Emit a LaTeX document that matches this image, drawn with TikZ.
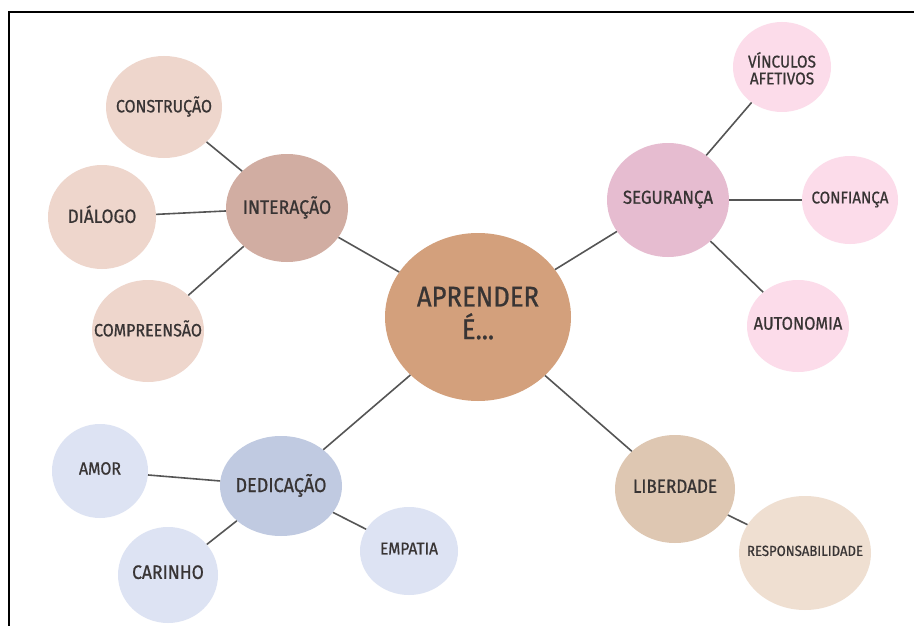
\documentclass[tikz,border=0pt]{standalone}
\usepackage{fontspec}
\setmainfont{Fira Sans}[FakeStretch=0.9,FakeBold=0.8]
\usetikzlibrary{shapes.geometric}
\definecolor{txt}{HTML}{383434}
\definecolor{cCenter}{HTML}{D3A07C}
\definecolor{cInter}{HTML}{D1ADA2}
\definecolor{cInterL}{HTML}{EED6CC}
\definecolor{cSeg}{HTML}{E6BCD0}
\definecolor{cSegL}{HTML}{FCDCEA}
\definecolor{cLib}{HTML}{DEC7B2}
\definecolor{cLibL}{HTML}{EFDFD1}
\definecolor{cDed}{HTML}{C0CAE1}
\definecolor{cDedL}{HTML}{DDE3F3}
\definecolor{cLine}{HTML}{555555}
\newcommand{\fs}[1]{\fontsize{#1}{#1}\selectfont}
\newcommand{\zw}[1]{\makebox[0pt]{\begin{tabular}{@{}c@{}}#1\end{tabular}}}
\tikzset{
  bubble/.style={ellipse, inner sep=0pt, text=txt},
  link/.style={draw=cLine, line width=1.6pt},
}
\begin{document}
\begin{tikzpicture}[x=1pt,y=-1pt]
\useasboundingbox (0,0) rectangle (914,626);
\fill[white] (0,0) rectangle (914,626);
\draw[line width=2.6pt, black] (9,626) -- (9,12) -- (914,12);

% center
\node[bubble, fill=cCenter, minimum width=186pt, minimum height=168pt,
      font=\fontsize{28.5}{29}\selectfont] (c) at (478,317) {\zw{APRENDER\\[-2pt]É...}};

% interacao
\node[bubble, fill=cInter, minimum width=122pt, minimum height=108pt, font=\fs{19.6}] (int) at (287,208) {\zw{INTERAÇÃO}};
\node[bubble, fill=cInterL, minimum width=116pt, minimum height=102pt, font=\fs{17.7}] (con) at (164,107) {\zw{CONSTRUÇÃO}};
\node[bubble, fill=cInterL, minimum width=108pt, minimum height=104pt, font=\fs{19.2}] (dia) at (102,217) {\zw{DIÁLOGO}};
\node[bubble, fill=cInterL, minimum width=112pt, minimum height=102pt, font=\fs{17.8}] (com) at (148,331) {\zw{COMPREENSÃO}};

% seguranca
\node[bubble, fill=cSeg, minimum width=122pt, minimum height=114pt, font=\fs{18.7}] (seg) at (668,200) {\zw{SEGURANÇA}};
\node[bubble, fill=cSegL, minimum width=98pt, minimum height=90pt, font=\fontsize{17}{16.5}\selectfont] (vin) at (782,67) {\makebox[0pt]{\raisebox{-8pt}[0pt][0pt]{\begin{tabular}{@{}c@{}}VÍNCULOS\\AFETIVOS\end{tabular}}}};
\node[bubble, fill=cSegL, minimum width=96pt, minimum height=88pt, font=\fs{16.8}] (cnf) at (850,200) {\zw{CONFIANÇA}};
\node[bubble, fill=cSegL, minimum width=102pt, minimum height=92pt, font=\fs{18.2}] (aut) at (798,326) {\zw{AUTONOMIA}};

% liberdade
\node[bubble, fill=cLib, minimum width=120pt, minimum height=108pt, font=\fs{19}] (lib) at (675,489) {\zw{LIBERDADE}};
\node[bubble, fill=cLibL, minimum width=132pt, minimum height=114pt, font=\fs{14.6}] (res) at (805,553) {\zw{RESPONSABILIDADE}};

% dedicacao
\node[bubble, fill=cDed, minimum width=122pt, minimum height=100pt, font=\fs{20}] (ded) at (281,486) {\zw{DEDICAÇÃO}};
\node[bubble, fill=cDedL, minimum width=96pt, minimum height=94pt, font=\fs{17.7}] (amo) at (100,471) {\zw{AMOR}};
\node[bubble, fill=cDedL, minimum width=100pt, minimum height=96pt, font=\fs{19.5}] (car) at (168,575) {\zw{CARINHO}};
\node[bubble, fill=cDedL, minimum width=98pt, minimum height=88pt, font=\fs{17.2}] (emp) at (409,551) {\zw{EMPATIA}};

\draw[link] (c) -- (int);
\draw[link] (c) -- (seg);
\draw[link] (c) -- (ded);
\draw[link] (c) -- (lib);
\draw[link] (int) -- (con);
\draw[link] (int) -- (dia);
\draw[link] (int) -- (com);
\draw[link] (seg) -- (vin);
\draw[link] (seg) -- (cnf);
\draw[link] (seg) -- (aut);
\draw[link] (ded) -- (amo);
\draw[link] (ded) -- (car);
\draw[link] (ded) -- (emp);
\draw[link] (lib) -- (res);
\end{tikzpicture}
\end{document}
